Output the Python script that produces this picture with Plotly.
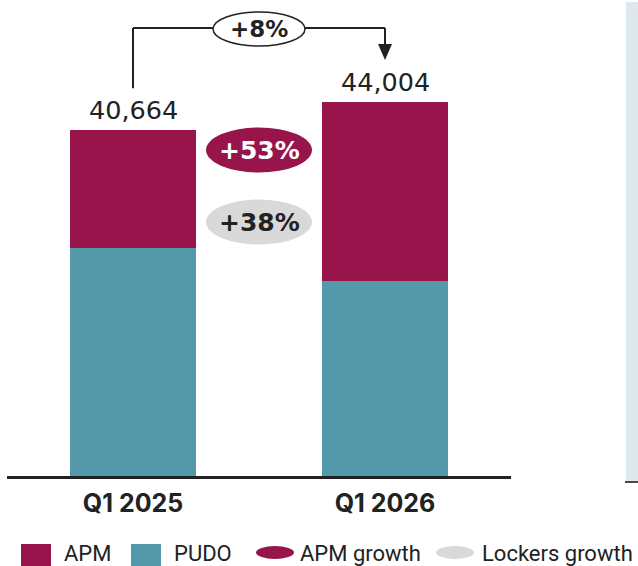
import plotly.graph_objects as go

# Parcel volumes by delivery channel
quarters = ["Q1 2025", "Q1 2026"]
apm = [13800, 21120]
pudo = [26864, 22884]
totals = [a + p for a, p in zip(apm, pudo)]
lockers_growth = 38
legend_labels = ["APM", "PUDO", "APM growth", "Lockers growth"]

APM_COLOR = "#97154A"
PUDO_COLOR = "#5499A9"
GREY = "#D9D9D9"
INK = "#222222"
FONT = "Roboto"
NUM_FONT = "DejaVu Sans"

W, H = 638, 566
# plot geometry (pixels)
X_LEFT, X_RIGHT = 7, 511          # x-axis extent
BASE = 476                         # baseline pixel row
VAL_PER_PX = 117.6
Y_TOP_VAL = BASE * VAL_PER_PX      # value at the top edge of the figure
X_RANGE = [-0.5, 1.5]
PX_PER_UNIT = (X_RIGHT - X_LEFT) / (X_RANGE[1] - X_RANGE[0])


def fx(px):
    return px / W


def fy(py):
    return 1 - py / H


def cat_px(i):
    return X_LEFT + (i - X_RANGE[0]) * PX_PER_UNIT


def val_py(v):
    return BASE - v / VAL_PER_PX


fig = go.Figure()
fig.add_trace(go.Bar(x=quarters, y=pudo, name="PUDO", marker_color=PUDO_COLOR,
                     marker_line_width=0, width=0.5, hoverinfo="y+name"))
fig.add_trace(go.Bar(x=quarters, y=apm, name="APM", marker_color=APM_COLOR,
                     marker_line_width=0, width=0.5, hoverinfo="y+name"))

shapes = []
annotations = []

# light side panel on the right edge
shapes.append(dict(type="rect", xref="paper", yref="paper",
                   x0=fx(626), x1=fx(645), y0=fy(482), y1=fy(2),
                   fillcolor="#DDE9EE", line_width=0, layer="below"))
shapes.append(dict(type="line", xref="paper", yref="paper",
                   x0=fx(625), x1=fx(645), y0=fy(482), y1=fy(482),
                   line=dict(color="#4A4A4A", width=2)))

# total labels above each bar
for q, t in zip(quarters, totals):
    annotations.append(dict(x=q, y=t, xref="x", yref="y", text=f"{t:,}",
                            showarrow=False, xanchor="center", yanchor="bottom",
                            yshift=3,
                            font=dict(family=NUM_FONT, size=25.5, color=INK)))

# total growth connector
growth_total = round((totals[1] / totals[0] - 1) * 100)
x0p, x1p = cat_px(0), cat_px(1)
xm = (x0p + x1p) / 2
y_bridge = 28
y_start = val_py(totals[0]) - 42
ell_w, ell_h = 92, 34
line_style = dict(color=INK, width=2)
shapes += [
    dict(type="line", xref="paper", yref="paper", x0=fx(x0p), x1=fx(x0p),
         y0=fy(y_start), y1=fy(y_bridge), line=line_style),
    dict(type="line", xref="paper", yref="paper", x0=fx(x0p), x1=fx(xm - ell_w / 2),
         y0=fy(y_bridge), y1=fy(y_bridge), line=line_style),
    dict(type="line", xref="paper", yref="paper", x0=fx(xm + ell_w / 2), x1=fx(x1p),
         y0=fy(y_bridge), y1=fy(y_bridge), line=line_style),
    dict(type="line", xref="paper", yref="paper", x0=fx(x1p), x1=fx(x1p),
         y0=fy(y_bridge), y1=fy(46), line=line_style),
    dict(type="path", xref="paper", yref="paper",
         path=f"M {fx(x1p - 7)},{fy(44)} L {fx(x1p + 7)},{fy(44)} L {fx(x1p)},{fy(60)} Z",
         fillcolor=INK, line_width=0),
    dict(type="circle", xref="paper", yref="paper",
         x0=fx(xm - ell_w / 2), x1=fx(xm + ell_w / 2),
         y0=fy(y_bridge + 1 + ell_h / 2), y1=fy(y_bridge + 1 - ell_h / 2),
         fillcolor="white", line=dict(color=INK, width=1.5)),
]
annotations.append(dict(x=fx(xm), y=fy(y_bridge + 1), xref="paper", yref="paper",
                        text=f"<b>+{growth_total}%</b>", showarrow=False,
                        xanchor="center", yanchor="middle",
                        font=dict(family=NUM_FONT, size=23, color=INK)))

# growth pills between the bars
apm_growth = round((apm[1] / apm[0] - 1) * 100)
pills = [
    (f"+{apm_growth}%", 150, APM_COLOR, "white"),
    (f"+{lockers_growth}%", 222, GREY, INK),
]
pw, ph = 106, 45
for text, cy, fill, color in pills:
    shapes.append(dict(type="circle", xref="paper", yref="paper",
                       x0=fx(xm - pw / 2), x1=fx(xm + pw / 2),
                       y0=fy(cy + ph / 2), y1=fy(cy - ph / 2),
                       fillcolor=fill, line_width=0))
    annotations.append(dict(x=fx(xm), y=fy(cy), xref="paper", yref="paper",
                            text=f"<b>{text}</b>", showarrow=False,
                            xanchor="center", yanchor="middle",
                            font=dict(family=NUM_FONT, size=25, color=color)))

# legend row
legend_y = 553
markers = [
    ("square", 21, APM_COLOR, 62),
    ("square", 131, PUDO_COLOR, 172),
    ("ellipse", 256, APM_COLOR, 298),
    ("ellipse", 436, GREY, 480),
]
for (kind, mx, color, tx), label in zip(markers, legend_labels):
    if kind == "square":
        shapes.append(dict(type="rect", xref="paper", yref="paper",
                           x0=fx(mx), x1=fx(mx + 30), y0=fy(570), y1=fy(544),
                           fillcolor=color, line_width=0))
    else:
        shapes.append(dict(type="circle", xref="paper", yref="paper",
                           x0=fx(mx), x1=fx(mx + 38), y0=fy(559), y1=fy(546),
                           fillcolor=color, line_width=0))
    annotations.append(dict(x=fx(tx), y=fy(legend_y), xref="paper", yref="paper",
                            text=label, showarrow=False, xanchor="left",
                            yanchor="middle",
                            font=dict(family=FONT, size=22, color=INK)))

fig.update_layout(
    width=W, height=H,
    margin=dict(l=0, r=0, t=0, b=0),
    paper_bgcolor="white", plot_bgcolor="rgba(0,0,0,0)",
    barmode="stack", showlegend=False,
    font=dict(family=FONT, color=INK),
    xaxis=dict(domain=[fx(X_LEFT), fx(X_RIGHT)], range=X_RANGE,
               showline=True, linecolor=INK, linewidth=2.5,
               showgrid=False, zeroline=False, ticks="",
               tickfont=dict(family="Inter", size=25, color=INK, weight="bold"),
               ticklabelstandoff=3, fixedrange=True),
    yaxis=dict(domain=[fy(BASE), 1], range=[0, Y_TOP_VAL],
               visible=False, showgrid=False, zeroline=False, fixedrange=True),
    shapes=shapes,
    annotations=annotations,
)

fig.write_html("out.html")
